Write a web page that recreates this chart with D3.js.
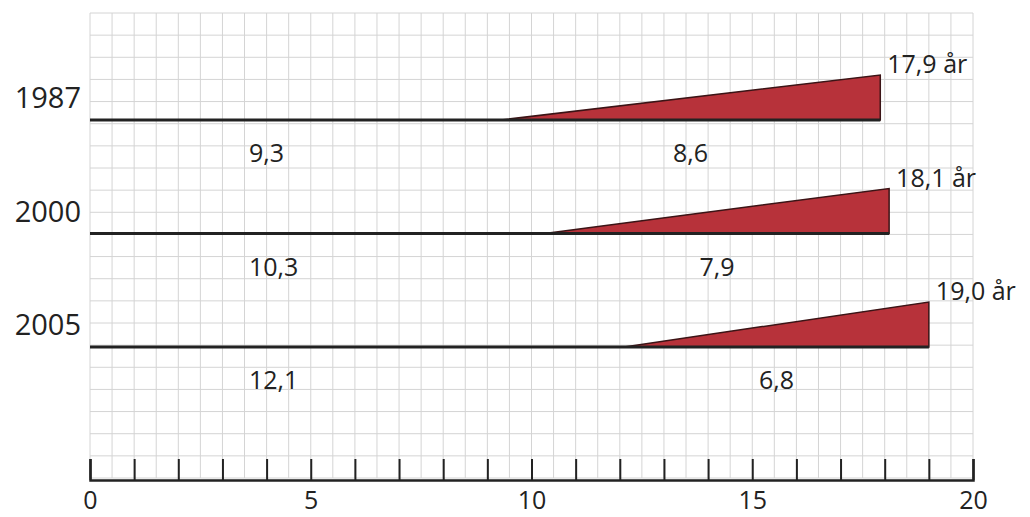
<!DOCTYPE html>
<html>
<head>
<meta charset="utf-8">
<script src="https://cdn.jsdelivr.net/npm/d3@7"></script>
<style>
  html, body { margin: 0; padding: 0; background: #fff; }
  svg { display: block; }
  text { font-family: "Open Sans", "Noto Sans", sans-serif; fill: #222; }
</style>
</head>
<body>
<svg id="chart" width="1030" height="517"></svg>
<script>
// ---- data ----
const years = ["1987", "2000", "2005"];
const startValues = [9.3, 10.3, 12.1];
const addedValues = [8.6, 7.9, 6.8];
const totalValues = [17.9, 18.1, 19.0];
const totalLabels = ["17,9 år", "18,1 år", "19,0 år"];
const startLabels = ["9,3", "10,3", "12,1"];
const addedLabels = ["8,6", "7,9", "6,8"];
const tickLabels = ["0", "5", "10", "15", "20"];

const svg = d3.select("#chart");

const x = d3.scaleLinear().domain([0, 20]).range([90, 973]);
const gridTop = 13, gridBottom = 478, rows = 21;
const yGrid = d3.scaleLinear().domain([0, rows]).range([gridTop, gridBottom]);
const y = d3.scalePoint().domain(years).range([120, 347]);

// grid
const grid = svg.append("g").attr("stroke", "#d4d4d4").attr("stroke-width", 1);
grid.selectAll("line.v").data(d3.range(0, 20.01, 0.5)).join("line")
  .attr("x1", d => x(d)).attr("x2", d => x(d))
  .attr("y1", gridTop).attr("y2", gridBottom);
grid.selectAll("line.h").data(d3.range(0, rows + 1)).join("line")
  .attr("x1", x(0)).attr("x2", x(20))
  .attr("y1", d => yGrid(d)).attr("y2", d => yGrid(d));

// rows
const data = years.map((yr, i) => ({
  year: yr, start: startValues[i], added: addedValues[i],
  total: totalValues[i],
  tLabel: totalLabels[i], sLabel: startLabels[i], aLabel: addedLabels[i]
}));
const triH = 45;

const g = svg.append("g");
// triangles
g.selectAll("path.tri").data(data).join("path")
  .attr("d", d => {
    const b = y(d.year);
    return `M${x(d.start)},${b} L${x(d.total)},${b} L${x(d.total)},${b - triH} Z`;
  })
  .attr("fill", "#b7323a")
  .attr("stroke", "#3b1416")
  .attr("stroke-width", 1.5)
  .attr("stroke-linejoin", "miter");

// baseline
g.selectAll("line.base").data(data).join("line")
  .attr("x1", x(0)).attr("x2", d => x(d.total))
  .attr("y1", d => y(d.year)).attr("y2", d => y(d.year))
  .attr("stroke", "#222").attr("stroke-width", 3);

// year labels
g.selectAll("text.year").data(data).join("text")
  .attr("x", 81).attr("y", d => y(d.year) - 12)
  .attr("text-anchor", "end")
  .attr("font-size", 29)
  .text(d => d.year);

// start labels
g.selectAll("text.s").data(data).join("text")
  .attr("x", x(3.6)).attr("y", d => y(d.year) + 42)
  .attr("font-size", 25)
  .text(d => d.sLabel);

// added labels
g.selectAll("text.a").data(data).join("text")
  .attr("x", d => x((d.start + d.total) / 2)).attr("y", d => y(d.year) + 42)
  .attr("text-anchor", "middle")
  .attr("font-size", 25)
  .text(d => d.aLabel);

// total labels
g.selectAll("text.t").data(data).join("text")
  .attr("x", d => x(d.total) + 7).attr("y", d => y(d.year) - triH - 2)
  .attr("font-size", 25)
  .text(d => d.tLabel);

// axis
const axis = d3.axisBottom(x)
  .tickValues(d3.range(0, 21))
  .tickSize(-21)
  .tickFormat(d => (d % 5 === 0 ? tickLabels[d / 5] : ""));
const ax = svg.append("g").attr("transform", `translate(0,${480})`).call(axis);
ax.select(".domain").attr("stroke", "#222").attr("stroke-width", 2.5);
ax.selectAll(".tick line").attr("stroke", "#222").attr("stroke-width", 2);
ax.selectAll(".tick text")
  .attr("font-size", 25).attr("fill", "#222")
  .attr("dy", 0).attr("y", 29)
  .style("font-family", '"Open Sans", "Noto Sans", sans-serif');
</script>
</body>
</html>
